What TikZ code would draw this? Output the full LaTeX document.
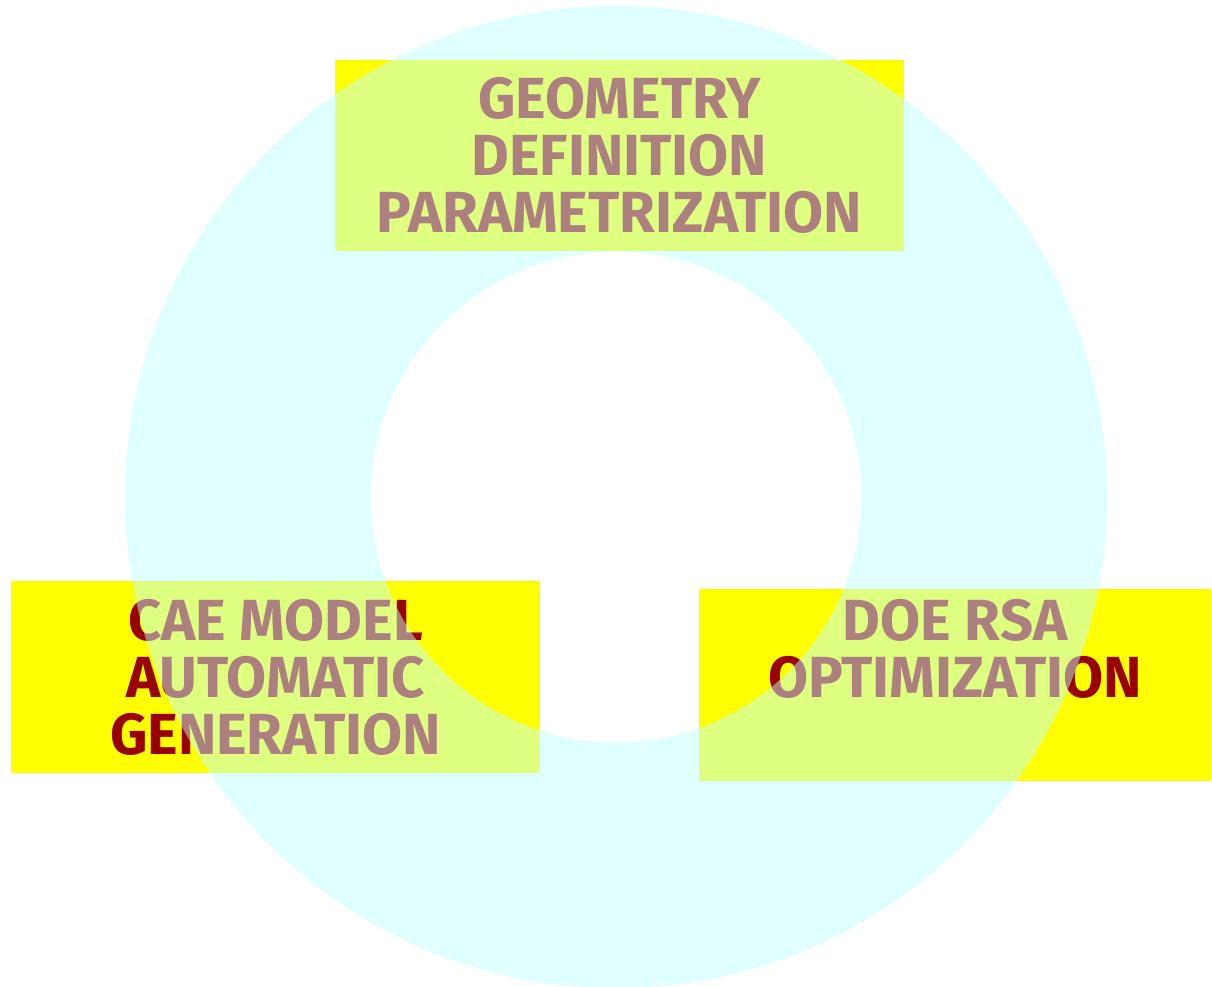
\documentclass[tikz,border=0pt]{standalone}
\usepackage{fontspec}
\setmainfont{Fira Sans}
\usepackage{xcolor}
\usepackage{tikz}
\usetikzlibrary{positioning}

\definecolor{boxyellow}{RGB}{255,255,0}
\definecolor{labelred}{RGB}{153,0,0}
\definecolor{ringcyan}{RGB}{193,255,255}

\begin{document}
\begin{tikzpicture}[
    box/.style={rectangle, fill=boxyellow, inner sep=0pt, align=center, text=labelred,
        font=\fontsize{16.5}{16.2}\selectfont\bfseries},
    ring/.style={fill=ringcyan, fill opacity=0.5, even odd rule}
]

    % Area del disegno (proporzioni del riferimento)
    \useasboundingbox (0,0) rectangle (12.12,9.86);

    % Centro dell'anello e raggi
    \coordinate (c) at (6.16,4.89);
    \def\R{4.91}
    \def\r{2.455}

    % 1. I tre riquadri gialli con le scritte
    \node[box, minimum width=5.69cm, minimum height=1.91cm] (geom) at (6.195,8.305)
        {GEOMETRY\\DEFINITION\\PARAMETRIZATION};
    \node[box, minimum width=5.29cm, minimum height=1.92cm] (cae) at (2.755,3.09)
        {CAE MODEL\\AUTOMATIC\\GENERATION};
    \node[box, minimum width=5.12cm, minimum height=1.92cm] (doe) at (9.55,3.01)
        {DOE RSA\\OPTIMIZATION\\\strut};

    % 2. L'anello azzurro semitrasparente sopra i riquadri
    \fill[ring] (c) circle (\R) (c) circle (\r);

\end{tikzpicture}
\end{document}
